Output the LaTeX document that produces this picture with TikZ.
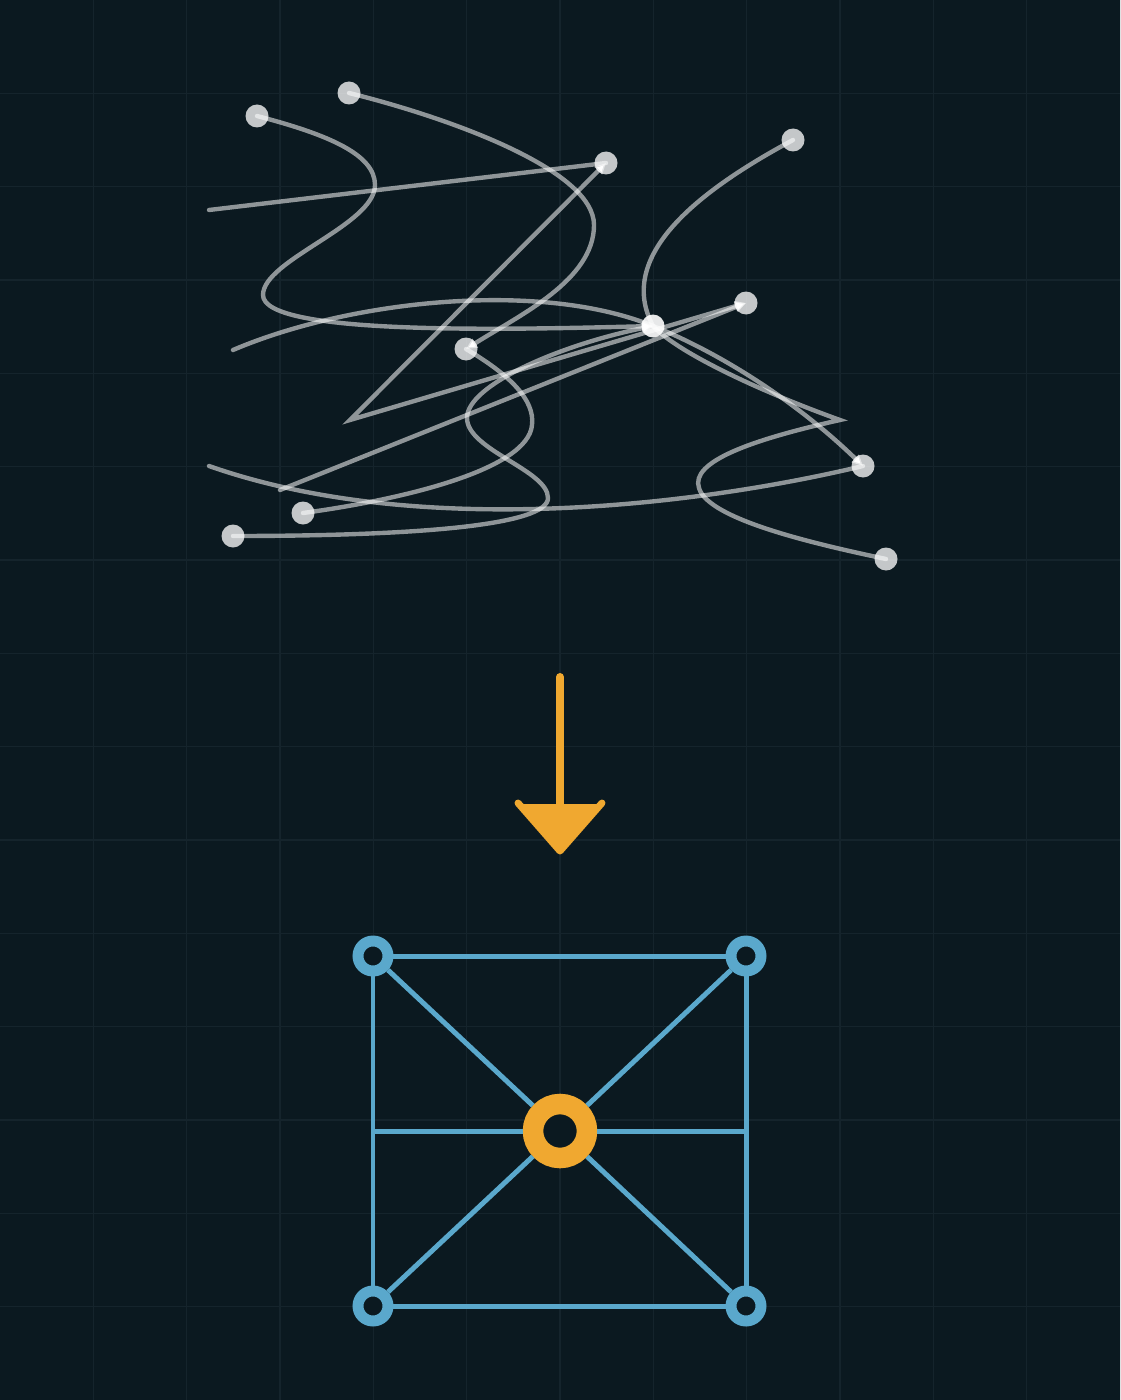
\documentclass[tikz,border=0pt]{standalone}
\usetikzlibrary{arrows.meta}
\definecolor{bgc}{HTML}{0B1920}
\definecolor{gridc}{HTML}{15242C}
\definecolor{blu}{HTML}{5AA8CC}
\definecolor{org}{HTML}{F0A830}
\tikzset{
  wire/.style={draw=white, draw opacity=0.54, line width=4.4pt, line cap=round},
  tipped/.style={-{Triangle[length=11pt,width=10pt]}},
  dotn/.style={circle, fill=white, fill opacity=0.76, minimum size=23bp, inner sep=0pt},
  ringn/.style={circle, draw=blu, fill=bgc, line width=11pt, minimum size=30bp, inner sep=0pt},
  hubn/.style={circle, draw=org, fill=bgc, line width=20.6pt, minimum size=54bp, inner sep=0pt},
  edge/.style={draw=blu, line width=5pt},
  gridline/.style={draw=gridc, line width=1.6pt}
}
\begin{document}
\begin{tikzpicture}[x=1bp,y=-1bp]
\useasboundingbox (0,0) rectangle (1120,1400);
\clip (0,0) rectangle (1120,1400);
\fill[bgc] (-5,-5) rectangle (1125,1405);
\foreach \i in {1,...,11} \draw[gridline] (\i*93.333,0) -- (\i*93.333,1400);
\foreach \j in {1,...,14} \draw[gridline] (0,\j*93.333) -- (1120,\j*93.333);

% ---- tangle: dots ----
\node[dotn] (d1) at (257,116) {};
\node[dotn] (d2) at (349,93) {};
\node[dotn] (d3) at (606,163) {};
\node[dotn] (d4) at (793,140) {};
\node[dotn] (d5) at (746,303) {};
\node[dotn, fill opacity=0.9] (hub) at (653,326) {};
\node[dotn] (d7) at (466,349) {};
\node[dotn] (d8) at (863,466) {};
\node[dotn] (d9) at (303,513) {};
\node[dotn] (d10) at (233,536) {};
\node[dotn] (d11) at (886,559) {};
\coordinate (e1) at (209,210);
\coordinate (e2) at (233,350);
\coordinate (e3) at (350,420);
\coordinate (e4) at (209,466);
\coordinate (e5) at (280,490);
\coordinate (e6) at (840,420);

% ---- tangle: wires ----
\draw[wire, tipped] (d1.center) .. controls (330,135) and (375,155) .. (375,185)
   .. controls (375,225) and (263,260) .. (263,295)
   .. controls (263,335) and (500,330) .. (hub.center);
\draw[wire, tipped] (d2.center) .. controls (450,118) and (594,170) .. (594,225)
   .. controls (594,280) and (520,315) .. (d7.center);
\draw[wire] (d7.center) .. controls (510,375) and (535,400) .. (532,425)
   .. controls (528,470) and (400,500) .. (d9.center);
\draw[wire, tipped] (d10.center) .. controls (420,536) and (548,525) .. (548,498)
   .. controls (548,470) and (467,450) .. (467,418)
   .. controls (467,385) and (560,345) .. (hub.center);
\draw[wire] (e1) -- (d3.center);
\draw[wire, {Triangle[length=11pt,width=10pt]}-{Triangle[length=11pt,width=10pt]}, line cap=butt] (d3.center) -- (e3) -- (d5.center);
\draw[wire, tipped] (e2) .. controls (350,300) and (540,280) .. (hub.center)
   .. controls (725,355) and (800,405) .. (d8.center);
\draw[wire] (d4.center) .. controls (700,190) and (615,255) .. (hub.center)
   .. controls (680,355) and (770,395) .. (e6)
   .. controls (750,440) and (690,462) .. (699,488)
   .. controls (708,520) and (820,545) .. (d11.center);
\draw[wire] (d8.center) .. controls (700,505) and (420,540) .. (e4);
\draw[wire, tipped] (e5) -- (d5.center);

% ---- arrow ----
\coordinate (a1) at (560,677);
\coordinate (a2) at (560,812);
\coordinate (hl) at (518,803);
\coordinate (hr) at (602,803);
\coordinate (ht) at (560,851);
\draw[org, line width=8pt, line cap=round] (a1) -- (a2);
\fill[org] (521,805) -- (599,805) -- (ht) -- cycle;
\draw[org, line width=7pt, line cap=round, line join=round] (hl) -- (ht) -- (hr);
\draw[org, line width=4pt] (522,806) -- (598,806);

% ---- clean structure ----
\node[ringn] (c1) at (373,956) {};
\node[ringn] (c2) at (746,956) {};
\node[ringn] (c3) at (373,1306) {};
\node[ringn] (c4) at (746,1306) {};
\node[hubn] (cen) at (560,1131) {};
\coordinate (m1) at (373,1131);
\coordinate (m2) at (746,1131);
\draw[edge] (c1) -- (c2);
\draw[edge] (c2) -- (c4);
\draw[edge] (c4) -- (c3);
\draw[edge] (c3) -- (c1);
\draw[edge] (c1) -- (cen);
\draw[edge] (c2) -- (cen);
\draw[edge] (c3) -- (cen);
\draw[edge] (c4) -- (cen);
\draw[edge] (m1) -- (cen);
\draw[edge] (cen) -- (m2);
\end{tikzpicture}
\end{document}
